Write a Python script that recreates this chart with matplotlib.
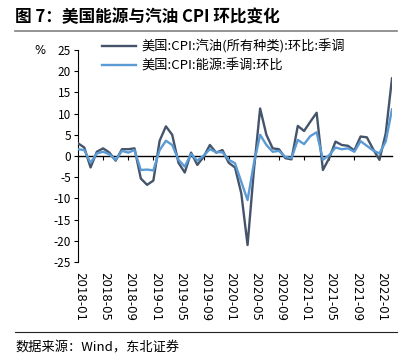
import matplotlib
matplotlib.use('Agg')
import numpy as np
import pandas as pd
from matplotlib import pyplot as plt
from matplotlib.lines import Line2D
from matplotlib import transforms

plt.rcParams['font.family'] = ['Noto Sans CJK SC', 'DejaVu Sans']
plt.rcParams['axes.unicode_minus'] = False

# monthly data 2018-01 .. 2022-03
months = pd.date_range('2018-01', '2022-03', freq='MS').strftime('%Y-%m').tolist()

gasoline = [3.0, 2.0, -2.7, 1.0, 1.8, 0.8, -1.1, 1.6, 1.6, 1.8,
            -5.3, -6.8, -5.8, 3.6, 7.0, 5.0, -1.6, -3.9, 0.8, -2.1,
            -0.2, 2.6, 0.8, 1.4, -1.6, -2.7, -8.8, -21.0, -3.5, 11.2,
            5.0, 1.8, 1.6, -0.5, -0.8, 7.1, 5.9, 8.1, 10.2, -3.3,
            -0.5, 3.4, 2.6, 2.4, 1.3, 4.6, 4.4, 1.6, -0.9, 5.3,
            18.3]
energy = [1.6, 1.4, -1.6, 0.6, 1.0, 0.4, -0.9, 1.2, 0.8, 1.4,
          -3.3, -3.2, -3.4, 1.4, 3.6, 2.6, -0.9, -2.5, 0.5, -1.1,
          0.1, 1.6, 0.9, 0.9, -0.9, -1.7, -6.1, -10.4, -1.8, 5.0,
          2.6, 1.0, 1.2, -0.2, -0.5, 3.8, 2.8, 4.7, 5.6, -0.9,
          0.2, 2.0, 1.6, 1.8, 1.0, 3.5, 2.4, 1.3, 0.6, 3.4,
          11.0]

label_gas = '美国:CPI:汽油(所有种类):环比:季调'
label_energy = '美国:CPI:能源:季调:环比'

dark = '#44546A'
light = '#5B9BD5'

W, H = 420, 363
fig = plt.figure(figsize=(W / 100, H / 100), dpi=100)
ax = fig.add_axes([78 / W, 1 - 262 / H, (392 - 78) / W, (262 - 50) / H])

x = np.arange(len(months))
ax.plot(x, gasoline, color=dark, lw=1.7, label=label_gas, zorder=3)
ax.plot(x, energy, color=light, lw=1.7, label=label_energy, zorder=4)

ax.set_xlim(0, len(months) - 1)
ax.set_ylim(-25, 25)
ax.set_yticks(range(-25, 26, 5))
ax.tick_params(axis='y', labelsize=8.5, length=3, width=0.8, pad=2, direction='out')

for s in ['top', 'right']:
    ax.spines[s].set_visible(False)
ax.spines['left'].set_linewidth(0.8)
ax.spines['bottom'].set_position(('data', 0))
ax.spines['bottom'].set_linewidth(1.0)
ax.spines['bottom'].set_zorder(2)

ticks = x[::4]
ax.set_xticks(ticks)
ax.tick_params(axis='x', length=3, width=0.8, direction='out', labelbottom=False)
trans = transforms.blended_transform_factory(ax.transData, ax.transAxes)
for t in ticks:
    ax.text(t + 0.3, -0.045, months[t], transform=trans, rotation=270,
            ha='center', va='top', fontsize=8.5, family='DejaVu Sans')

ax.text(-0.105, 1.0, '%', transform=ax.transAxes, fontsize=8.5,
        ha='right', va='center', family='DejaVu Sans')

ax.legend(loc='upper left', bbox_to_anchor=(0.06, 1.075), frameon=False,
          prop={'size': 9.5}, handlelength=2.6, handletextpad=0.4, labelspacing=0.4,
          borderaxespad=0)

# title and source
fig.text(15 / W, 1 - 17 / H, '图 7：美国能源与汽油 CPI 环比变化', fontsize=12,
         fontweight='bold', ha='left', va='center')
fig.add_artist(Line2D([15 / W, 397 / W], [1 - 31 / H, 1 - 31 / H],
                      color='#808080', lw=1.2))
fig.add_artist(Line2D([15 / W, 397 / W], [1 - 332 / H, 1 - 332 / H],
                      color='#222222', lw=0.8))
fig.text(15 / W, 1 - 348 / H, '数据来源：Wind，东北证券', fontsize=9.5,
         ha='left', va='center')

fig.savefig('out.png', dpi=100)
